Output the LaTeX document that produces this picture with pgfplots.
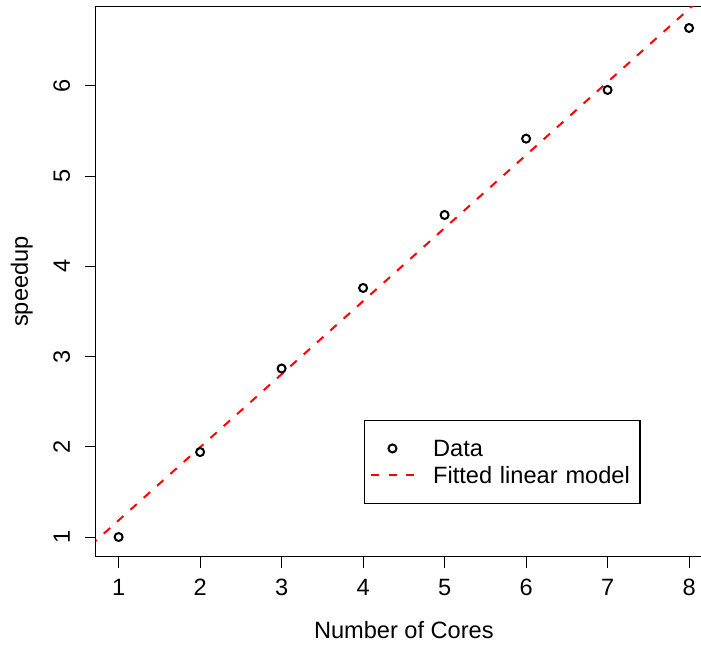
\documentclass[border=0pt]{standalone}
\usepackage{fontspec}
\setmainfont{Liberation Sans}
\usepackage{pgfplots}
\pgfplotsset{compat=1.18}
\pgfplotsset{
  datalegend/.code={\pgfplotsset{legend image code/.code={%
    \path[draw=none,fill=none] (0pt,0pt) (31.25pt,0pt);
    \draw[##1] plot[only marks] coordinates {(10.925pt,0pt)};}}},
  linelegend/.code={\pgfplotsset{legend image code/.code={%
    \draw[##1] plot coordinates {(0pt,0pt) (21.85pt,0pt)};
    \path[draw=none,fill=none] (0pt,0pt) (31.25pt,0pt);}}}
}
\begin{document}
\begin{tikzpicture}
\begin{axis}[
  scale only axis, width=308.05pt, height=274.95pt,
  xmin=0.72, xmax=8.28, ymin=0.783, ymax=6.879,
  xtick={1,2,3,4,5,6,7,8}, ytick={1,2,3,4,5,6},
  tick align=outside, xtick pos=bottom, ytick pos=left,
  major tick length=5.5pt,
  tick style={black, line width=0.5pt},
  axis line style={line width=0.6pt},
  font=\fontsize{11.8}{14}\selectfont,
  /pgf/number format/assume math mode=true,
  xticklabel style={anchor=base},
  yticklabel style={rotate=90, anchor=base},
  xticklabel shift=14.2pt,
  yticklabel shift=7.5pt,
  xlabel={Number of Cores},
  xlabel style={at={(axis description cs:0.5,-0.14912)}, anchor=base},
  ylabel={speedup},
  ylabel style={at={(axis description cs:-0.1104,0.5)}, anchor=base},
  legend cell align=left,
  legend style={at={(0.4347,0.2484)}, anchor=north west, draw=black, line width=0.6pt, fill=white,
    inner xsep=2.7pt, inner ysep=7.25pt, row sep=0.05pt,
    nodes={inner sep=0pt, text height=10.85pt, text depth=2.5pt, text width=100.75pt}},
]
\addplot[only marks, mark=o, mark size=2pt, mark options={line width=1pt, solid, black}, datalegend] coordinates {
  (1,1.000) (2,1.942) (3,2.868) (4,3.761) (5,4.570) (6,5.416) (7,5.956) (8,6.643)
};
\addlegendentry{Data}
\addplot[red, line width=1pt, dash pattern=on 4.25pt off 4.7pt, linelegend] coordinates {
  (0,0.3754) (9,7.6636)
};
\addlegendentry{Fitted linear model}
\coordinate (bl) at (rel axis cs:0,0);
\coordinate (tl) at (rel axis cs:0,1);
\end{axis}
\pgfresetboundingbox
\useasboundingbox ([xshift=-47.9pt,yshift=-45.2pt]bl) rectangle ([xshift=302.6pt,yshift=3.35pt]tl);
\end{tikzpicture}
\end{document}
